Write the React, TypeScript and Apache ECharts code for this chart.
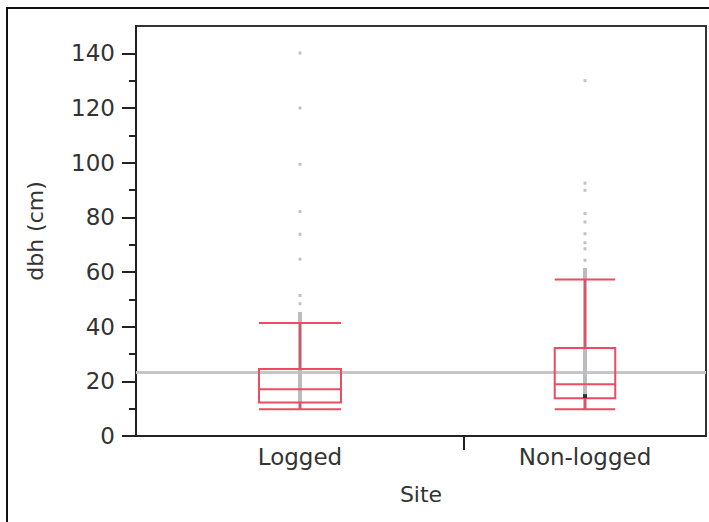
import React, { useEffect, useRef } from "react";
import * as echarts from "echarts";

// ---- data ----
const categories = ["Logged", "Non-logged"];
// relative width of each group's band on the x axis (JMP sizes bands by group size)
const groupShare = [0.5754, 0.4246];
const whiskerLow = [9.8, 9.8];
const q1 = [12.3, 13.8];
const median = [17.1, 18.9];
const q3 = [24.5, 32.2];
const whiskerHigh = [41.3, 57.3];
// range over which observations are so dense that they form a continuous stripe
const denseLow = [9.8, 9.8];
const denseHigh = [45.4, 61.5];
const outliersLogged = [140.1, 120, 99.4, 82.1, 73.8, 64.7, 51.4, 48.4];
const outliersNonLogged = [130, 92.5, 89.9, 81.4, 78.3, 74, 70.7, 68.5, 64.3];
const highlightedNonLogged = [14.6];
const grandMean = 23.4;
const yMajorTicks = [0, 20, 40, 60, 80, 100, 120, 140];
const yMinorTicks = [10, 30, 50, 70, 90, 110, 130];

// ---- styling ----
const RED = "#ec4b63";
const GREY = "#bcbcbc";
const AXIS = "#222";
const TEXT = "#333";
const FONT = "DejaVu Sans";
const BOX_FRAC = 0.25;

export default function App() {
  const ref = useRef<HTMLDivElement>(null);

  useEffect(() => {
    if (!ref.current) return;
    const chart = echarts.init(ref.current, null, { renderer: "svg" });

    // band boundaries and centers on a 0..1 value axis
    const bounds: number[] = [0];
    groupShare.forEach((s, i) => bounds.push(bounds[i] + s));
    const centers = groupShare.map((s, i) => bounds[i] + s / 2);
    const halfW = groupShare.map((s) => (s * BOX_FRAC) / 2);

    const boxData = categories.map((_, i) => [
      centers[i],
      whiskerLow[i],
      q1[i],
      median[i],
      q3[i],
      whiskerHigh[i],
      halfW[i],
    ]);
    const denseData = categories.map((_, i) => [centers[i], denseLow[i], denseHigh[i]]);
    const outlierData = [
      ...outliersLogged.map((v) => [centers[0], v]),
      ...outliersNonLogged.map((v) => [centers[1], v]),
    ];
    const highlightData = highlightedNonLogged.map((v) => [centers[1], v]);

    const option: any = {
      animation: false,
      backgroundColor: "#fff",
      textStyle: { fontFamily: FONT },
      grid: {
        left: 136,
        top: 26,
        right: 3,
        bottom: 86,
        show: true,
        borderColor: "#333",
        borderWidth: 2,
        backgroundColor: "transparent",
      },
      graphic: [
        {
          type: "rect",
          shape: { x: 7, y: 8, width: 820, height: 640 },
          style: { fill: "none", stroke: "#111", lineWidth: 2 },
          silent: true,
          z: 100,
        },
      ],
      xAxis: {
        type: "value",
        min: 0,
        max: 1,
        name: "Site",
        nameLocation: "middle",
        nameGap: 47,
        nameTextStyle: { fontSize: 22, color: TEXT, fontFamily: FONT },
        axisLine: { show: true, lineStyle: { color: AXIS, width: 2 } },
        axisTick: {
          show: true,
          customValues: bounds.slice(1, -1),
          length: 14,
          lineStyle: { color: AXIS, width: 2 },
        },
        axisLabel: {
          show: true,
          customValues: centers,
          margin: 9,
          fontSize: 23,
          color: TEXT,
          fontFamily: FONT,
          formatter: (v: number) => {
            let best = 0;
            centers.forEach((c, i) => {
              if (Math.abs(c - v) < Math.abs(centers[best] - v)) best = i;
            });
            return categories[best];
          },
        },
        splitLine: { show: false },
      },
      yAxis: [
        {
          type: "value",
          min: 0,
          max: 150,
          position: "left",
          name: "dbh (cm)",
          nameLocation: "middle",
          nameGap: 90,
          nameTextStyle: { fontSize: 22, color: TEXT, fontFamily: FONT },
          axisLine: { show: true, lineStyle: { color: AXIS, width: 2 } },
          axisTick: {
            show: true,
            customValues: yMajorTicks,
            length: 14,
            lineStyle: { color: AXIS, width: 2 },
          },
          axisLabel: {
            show: true,
            customValues: yMajorTicks,
            margin: 21,
            fontSize: 23,
            color: TEXT,
            fontFamily: FONT,
          },
          splitLine: { show: false },
        },
        {
          type: "value",
          min: 0,
          max: 150,
          position: "left",
          offset: 0,
          axisLine: { show: false },
          axisTick: {
            show: true,
            customValues: yMinorTicks,
            length: 7,
            lineStyle: { color: AXIS, width: 2 },
          },
          axisLabel: { show: false },
          splitLine: { show: false },
        },
      ],
      series: [
        {
          type: "custom",
          name: "dense",
          z: 2,
          data: denseData,
          encode: { x: 0, y: [1, 2] },
          renderItem: (params: any, api: any) => {
            const c = api.value(0);
            const [xc, yl] = api.coord([c, api.value(1)]);
            const yh = api.coord([c, api.value(2)])[1];
            return {
              type: "rect",
              shape: { x: xc - 2, y: yh, width: 4, height: yl - yh },
              style: { fill: GREY },
            };
          },
          markLine: {
            silent: true,
            symbol: "none",
            label: { show: false },
            lineStyle: { color: "#c6c6c6", width: 3, type: "solid" },
            data: [{ yAxis: grandMean }],
            z: 1,
          },
        },
        {
          type: "scatter",
          name: "points",
          z: 2,
          symbol: "rect",
          symbolSize: 3,
          itemStyle: { color: "#b3b3b3" },
          data: outlierData,
        },
        {
          type: "custom",
          name: "boxes",
          z: 5,
          data: boxData,
          encode: { x: 0, y: [1, 2, 3, 4, 5] },
          renderItem: (params: any, api: any) => {
            const c = api.value(0);
            const hw = api.value(6);
            const xl = api.coord([c - hw, 0])[0];
            const xr = api.coord([c + hw, 0])[0];
            const xc = api.coord([c, 0])[0];
            const y = (v: number) => api.coord([c, v])[1];
            const yLow = y(api.value(1));
            const yQ1 = y(api.value(2));
            const yMed = y(api.value(3));
            const yQ3 = y(api.value(4));
            const yHigh = y(api.value(5));
            const st = { stroke: RED, lineWidth: 2, fill: "none" };
            return {
              type: "group",
              children: [
                { type: "line", shape: { x1: xc, y1: yHigh, x2: xc, y2: yQ3 }, style: st },
                { type: "line", shape: { x1: xc, y1: yQ1, x2: xc, y2: yLow }, style: st },
                { type: "line", shape: { x1: xl, y1: yHigh, x2: xr, y2: yHigh }, style: st },
                { type: "line", shape: { x1: xl, y1: yLow, x2: xr, y2: yLow }, style: st },
                { type: "rect", shape: { x: xl, y: yQ3, width: xr - xl, height: yQ1 - yQ3 }, style: st },
                { type: "line", shape: { x1: xl, y1: yMed, x2: xr, y2: yMed }, style: st },
              ],
            };
          },
        },
        {
          type: "scatter",
          name: "highlight",
          z: 6,
          symbol: "rect",
          symbolSize: 4,
          itemStyle: { color: "#111" },
          data: highlightData,
        },
      ],
    };

    chart.setOption(option);
    return () => chart.dispose();
  }, []);

  return (
    <div
      ref={ref}
      style={{ position: "fixed", left: 0, top: 0, width: 709, height: 522 }}
    />
  );
}
